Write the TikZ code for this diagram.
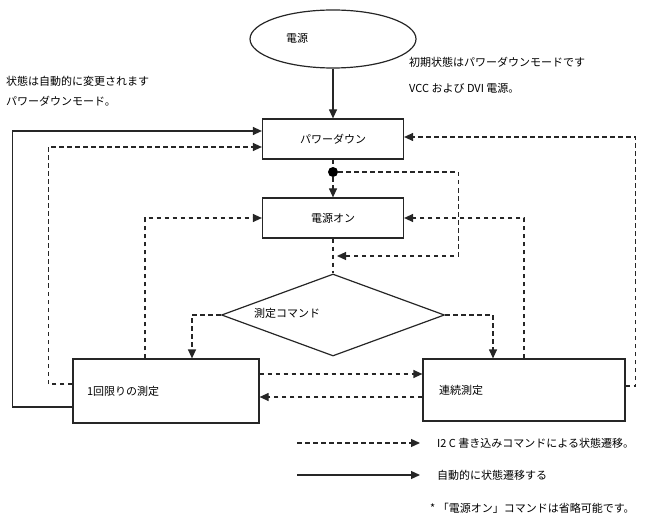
\documentclass[tikz,border=0pt]{standalone}
\usepackage{fontspec}
\setmainfont{Noto Sans CJK JP}
\usetikzlibrary{shapes.geometric,arrows.meta}
\colorlet{myline}{black!85}

\begin{document}
\begin{tikzpicture}[x=1bp,y=-1bp,
    every node/.style={font=\fontsize{11bp}{13bp}\selectfont},
    state/.style={draw=myline,line width=1.2bp,minimum width=141bp,minimum height=40bp},
    measbox/.style={draw=myline,line width=1.2bp,align=left,inner xsep=14bp},
    note/.style={anchor=west,inner sep=0pt},
    autoline/.style={myline,line width=1.2bp,-{Triangle[length=9bp,width=8bp]}},
    cmdline/.style={autoline,dash pattern=on 4.5bp off 3.5bp}]
    \useasboundingbox (0,0) rectangle (649,526);
    \node[ellipse,draw=myline,line width=1.2bp,minimum width=166bp,minimum height=58bp] (src) at (333,39) {};
    \node (srctxt) at (297,38) {電源};
    \node[state] (pd) at (333,139) {パワーダウン};
    \node[circle,fill=black,inner sep=0pt,minimum size=10bp] (dot) at (333,172) {};
    \node[state] (pwr) at (333,218) {電源オン};
    \node[diamond,draw=myline,line width=1.2bp,minimum width=223bp,minimum height=82bp,inner sep=0pt] (meas) at (333,315) {};
    \node (meastxt) at (287,313) {測定コマンド};
    \node[measbox,text width=158bp,minimum height=64bp] (one) at (166,391) {1回限りの測定};
    \node[measbox,inner xsep=16bp,text width=170bp,minimum height=62bp] (cont) at (524,390) {連続測定};
    \coordinate (midpt) at (333,256);
    \node[note] (lefta) at (6,81) {状態は自動的に変更されます};
    \node[note] (leftb) at (6,101) {パワーダウンモード。};
    \node[note] (righta) at (409,62) {初期状態はパワーダウンモードです};
    \node[note] (rightb) at (409,88) {VCC および DVI 電源。};
    \node[note] (lgcmd) at (437,443) {I2 C 書き込みコマンドによる状態遷移。};
    \node[note] (lgauto) at (437,475) {自動的に状態遷移する};
    \node[note] (lgstar) at (430,508) {* 「電源オン」コマンドは省略可能です。};
    \draw[autoline] (src.south) -- (pd.north);
    \draw[autoline] ([yshift=-16bp]one.west) -- ++(-60,0) |- ([yshift=8bp]pd.west);
    \draw[cmdline] ([yshift=7bp]one.west) -- ++(-24,0) |- ([yshift=-8bp]pd.west);
    \draw[cmdline,-] (pd) -- (dot);
    \draw[cmdline] (dot) -- (pwr);
    \draw[cmdline] (dot.east) -- ++(120,0) |- ([xshift=4bp]midpt);
    \draw[cmdline,-] (pwr) -- (meas);
    \draw[cmdline] (meas.west) -| ([xshift=26bp]one.north);
    \draw[cmdline] (meas.east) -| ([xshift=-31bp]cont.north);
    \draw[cmdline] ([xshift=-21bp]one.north) |- (pwr.west);
    \draw[cmdline] (cont.north) |- (pwr.east);
    \draw[cmdline] ([yshift=17bp]one.east) coordinate (fwd) -- (fwd -| cont.west);
    \draw[cmdline] ([yshift=-7bp]cont.west) coordinate (back) -- (back -| one.east);
    \draw[cmdline] ([yshift=4bp]cont.east) -- ++(10,0) |- ([yshift=2bp]pd.east);
    \draw[cmdline] ([xshift=-140bp]lgcmd.west) -- ([xshift=-17bp]lgcmd.west);
    \draw[autoline] ([xshift=-140bp]lgauto.west) -- ([xshift=-17bp]lgauto.west);
\end{tikzpicture}
\end{document}
